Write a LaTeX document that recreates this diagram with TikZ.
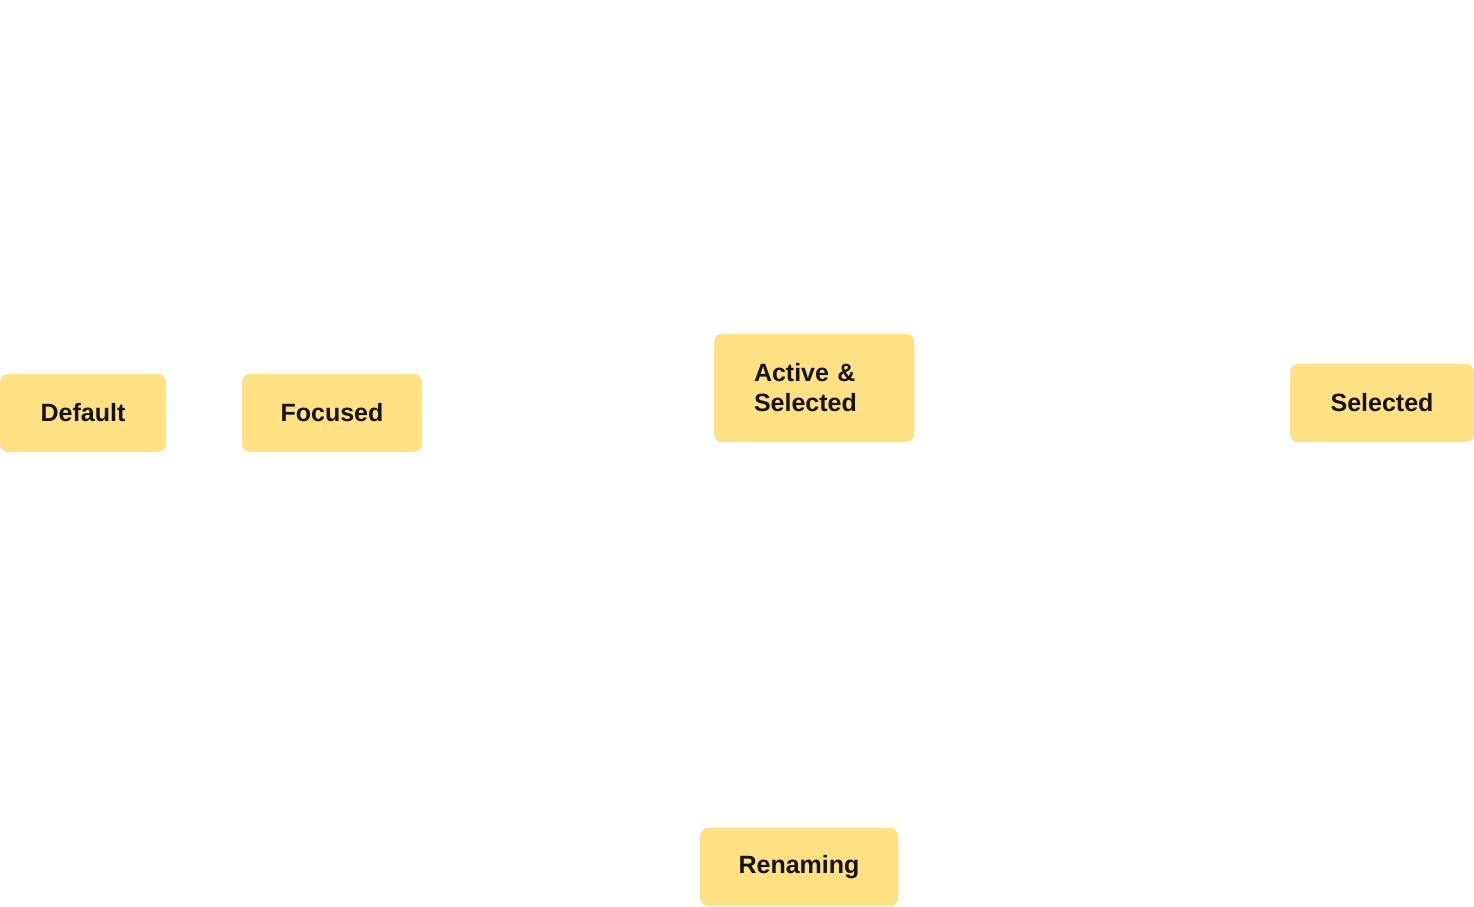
\documentclass[tikz,border=0pt]{standalone}
\usepackage{fontspec}
\setmainfont{Liberation Sans}
\usepackage{tikz}
\definecolor{stateyellow}{HTML}{FFE082}
\definecolor{statetext}{HTML}{141414}
\newcommand{\boxheight}{78pt}

\begin{document}
\begin{tikzpicture}[x=1pt,y=-1pt]
                \useasboundingbox (0,0) rectangle (1474,906);
                \begin{scope}[every node/.style={rectangle,rounded corners=8pt,fill=stateyellow,
                        text=statetext,font=\fontsize{25}{30}\selectfont\bfseries,
                        inner sep=0pt,minimum height=\boxheight}]
                    \node[minimum width=166pt] (default) at (83,413) {Default};
                    \node[minimum width=180pt] (focused) at (332,413) {Focused};
                    \node[minimum height=108pt,inner xsep=40pt,text width=120pt,align=left] (active) at (814,388) {Active~\&\\Selected};
                    \node[minimum width=184pt] (selected) at (1382,403) {Selected};
                    \node[minimum width=198pt] (renaming) at (799,867) {Renaming};
                \end{scope}
            \end{tikzpicture}
\end{document}
